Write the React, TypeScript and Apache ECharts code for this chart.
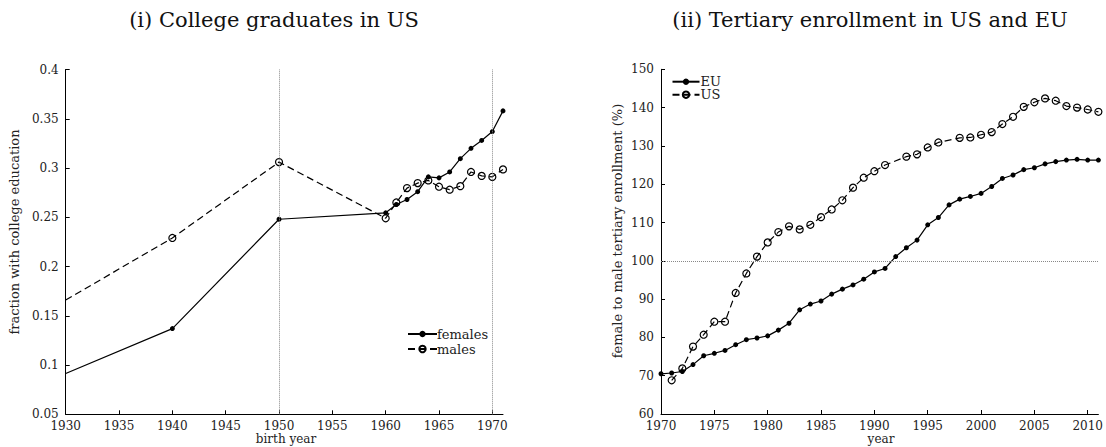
import React, { useEffect, useRef } from "react";
import * as echarts from "echarts";

// ---- Panel (i): College graduates in US ----
const gradYears = [1930, 1940, 1950, 1960, 1961, 1962, 1963, 1964, 1965, 1966, 1967, 1968, 1969, 1970, 1971];
const femalesGrad = [0.0914, 0.137, 0.248, 0.2545, 0.263, 0.268, 0.276, 0.291, 0.29, 0.296, 0.3095, 0.32, 0.328, 0.337, 0.358];
const malesGrad = [0.166, 0.229, 0.306, 0.249, 0.265, 0.2796, 0.2847, 0.2874, 0.281, 0.278, 0.2816, 0.296, 0.292, 0.291, 0.2986];
const gradXTicks = [1930, 1935, 1940, 1945, 1950, 1955, 1960, 1965, 1970];
const gradRefYears = [1950, 1970];

// ---- Panel (ii): Tertiary enrollment in US and EU ----
const euYears = [1970, 1971, 1972, 1973, 1974, 1975, 1976, 1977, 1978, 1979, 1980, 1981, 1982, 1983, 1984, 1985, 1986, 1987, 1988, 1989, 1990, 1991, 1992, 1993, 1994, 1995, 1996, 1997, 1998, 1999, 2000, 2001, 2002, 2003, 2004, 2005, 2006, 2007, 2008, 2009, 2010, 2011];
const euValues = [70.5, 70.7, 71.1, 72.9, 75.2, 75.85, 76.6, 78.1, 79.4, 79.85, 80.4, 81.9, 83.7, 87.2, 88.7, 89.5, 91.3, 92.6, 93.7, 95.2, 97.1, 98.0, 101.1, 103.4, 105.4, 109.4, 111.3, 114.6, 116.1, 116.8, 117.6, 119.4, 121.5, 122.4, 123.8, 124.3, 125.3, 125.9, 126.3, 126.5, 126.3, 126.3];
const usYears = [1971, 1972, 1973, 1974, 1975, 1976, 1977, 1978, 1979, 1980, 1981, 1982, 1983, 1984, 1985, 1986, 1987, 1988, 1989, 1990, 1991, 1993, 1994, 1995, 1996, 1998, 1999, 2000, 2001, 2002, 2003, 2004, 2005, 2006, 2007, 2008, 2009, 2010, 2011];
const usValues = [68.8, 71.9, 77.6, 80.7, 84.1, 84.1, 91.6, 96.7, 101.1, 104.8, 107.5, 109.0, 108.2, 109.4, 111.4, 113.4, 115.8, 119.1, 121.7, 123.4, 125.0, 127.2, 127.8, 129.6, 130.9, 132.1, 132.2, 132.9, 133.6, 135.7, 137.6, 140.2, 141.4, 142.4, 141.8, 140.4, 140.0, 139.5, 138.9];
const enrollXTicks = [1970, 1975, 1980, 1985, 1990, 1995, 2000, 2005, 2010];
const enrollRefValue = 100;

const FONT = '"DejaVu Serif", "Liberation Serif", serif';
const TEXT = "#222";

export default function App() {
  const ref = useRef<HTMLDivElement>(null);

  useEffect(() => {
    if (!ref.current) return;
    const chart = echarts.init(ref.current, null, { renderer: "svg" });

    const xLabel = { color: TEXT, fontFamily: FONT, fontSize: 12, lineHeight: 11 };
    const yLabel = { color: TEXT, fontFamily: FONT, fontSize: 12, lineHeight: 10 };
    const axisLine = { show: true, lineStyle: { color: "#000", width: 1 } };
    const axisTick = { show: true, inside: true, length: 4, lineStyle: { color: "#000" } };

    const femalesData = gradYears.map((y, i) =>
      i === 0 ? { value: [y, femalesGrad[i]], symbol: "none" } : { value: [y, femalesGrad[i]] }
    );
    const malesData = gradYears.map((y, i) =>
      i === 0 ? { value: [y, malesGrad[i]], symbol: "none" } : { value: [y, malesGrad[i]] }
    );

    const solidSeries = (name: string, data: any, xi: number, yi: number, extra: any = {}) => ({
      name,
      type: "line",
      xAxisIndex: xi,
      yAxisIndex: yi,
      data,
      symbol: "circle",
      symbolSize: 5,
      showAllSymbol: true,
      itemStyle: { color: "#000" },
      lineStyle: { color: "#000", width: 1.2, type: "solid" },
      z: 3,
      ...extra,
    });
    const dashedSeries = (name: string, data: any, xi: number, yi: number, extra: any = {}) => ({
      name,
      type: "line",
      xAxisIndex: xi,
      yAxisIndex: yi,
      data,
      symbol: "circle",
      symbolSize: 7,
      showAllSymbol: true,
      itemStyle: { color: "rgba(0,0,0,0)", borderColor: "#000", borderWidth: 1.2 },
      lineStyle: { color: "#000", width: 1.2, type: [7, 4] },
      z: 2,
      ...extra,
    });

    const xFmt = (v: number) => String(v);

    chart.setOption({
      animation: false,
      backgroundColor: "#fff",
      grid: [
        { left: 65.7, top: 69.5, width: 437.3, height: 344.8 },
        { left: 661, top: 69.3, width: 438.7, height: 344.7 },
      ],
      xAxis: [
        {
          type: "value",
          gridIndex: 0,
          min: 1930,
          max: 1971,
          interval: 5,
          splitLine: { show: false },
          axisLine,
          axisTick: { ...axisTick, customValues: gradXTicks },
          axisLabel: { ...xLabel, margin: 6, formatter: xFmt, customValues: gradXTicks },
        },
        {
          type: "value",
          gridIndex: 1,
          min: 1970,
          max: 2011,
          interval: 5,
          splitLine: { show: false },
          axisLine,
          axisTick: { ...axisTick, customValues: enrollXTicks },
          axisLabel: { ...xLabel, margin: 6, formatter: xFmt, customValues: enrollXTicks },
        },
      ],
      yAxis: [
        {
          type: "value",
          gridIndex: 0,
          min: 0.05,
          max: 0.4,
          interval: 0.05,
          splitLine: { show: false },
          axisLine,
          axisTick,
          axisLabel: { ...yLabel, margin: 7, formatter: (v: number) => String(Math.round(v * 100) / 100) },
        },
        {
          type: "value",
          gridIndex: 1,
          min: 60,
          max: 150,
          interval: 10,
          splitLine: { show: false },
          axisLine,
          axisTick,
          axisLabel: { ...yLabel, margin: 7 },
        },
      ],
      legend: [
        {
          data: ["females", "males"],
          orient: "vertical",
          left: 407,
          top: 326.5,
          padding: 0,
          itemGap: 0,
          itemWidth: 29,
          itemHeight: 8,
          textStyle: { color: TEXT, fontFamily: FONT, fontSize: 13, lineHeight: 15, padding: [0, 0, 0, -5] },
        },
        {
          data: ["EU", "US"],
          orient: "vertical",
          left: 671.5,
          top: 75.2,
          padding: 0,
          itemGap: 0,
          itemWidth: 27,
          itemHeight: 8,
          textStyle: { color: TEXT, fontFamily: FONT, fontSize: 13, lineHeight: 11, padding: [0, 0, 0, -4] },
        },
      ],
      graphic: [
        {
          type: "text",
          x: 274,
          y: 20,
          style: { text: "(i) College graduates in US", font: `21px ${FONT}`, fill: "#111", textAlign: "center", textVerticalAlign: "middle" },
        },
        {
          type: "text",
          x: 870,
          y: 20,
          style: { text: "(ii) Tertiary enrollment in US and EU", font: `21px ${FONT}`, fill: "#111", textAlign: "center", textVerticalAlign: "middle" },
        },
        {
          type: "text",
          x: 14.5,
          y: 232,
          rotation: Math.PI / 2,
          style: { text: "fraction with college education", font: `13px ${FONT}`, fill: TEXT, textAlign: "center", textVerticalAlign: "middle" },
        },
        {
          type: "text",
          x: 286,
          y: 439,
          style: { text: "birth year", font: `12px ${FONT}`, fill: TEXT, textAlign: "center", textVerticalAlign: "middle" },
        },
        {
          type: "text",
          x: 617.5,
          y: 231,
          rotation: Math.PI / 2,
          style: { text: "female to male tertiary enrollment (%)", font: `13px ${FONT}`, fill: TEXT, textAlign: "center", textVerticalAlign: "middle" },
        },
        {
          type: "text",
          x: 881,
          y: 439,
          style: { text: "year", font: `12px ${FONT}`, fill: TEXT, textAlign: "center", textVerticalAlign: "middle" },
        },
      ],
      series: [
        solidSeries("females", femalesData, 0, 0, {
          markLine: {
            silent: true,
            symbol: "none",
            label: { show: false },
            lineStyle: { color: "#888", width: 1, type: "dotted" },
            data: gradRefYears.map((x) => ({ xAxis: x })),
          },
        }),
        dashedSeries("males", malesData, 0, 0),
        solidSeries("EU", euYears.map((y, i) => [y, euValues[i]]), 1, 1, {
          markLine: {
            silent: true,
            symbol: "none",
            label: { show: false },
            lineStyle: { color: "#888", width: 1, type: "dotted" },
            data: [{ yAxis: enrollRefValue }],
          },
        }),
        dashedSeries("US", usYears.map((y, i) => [y, usValues[i]]), 1, 1),
      ],
    });

    return () => chart.dispose();
  }, []);

  return (
    <div
      ref={ref}
      style={{ position: "fixed", left: 0, top: 0, width: 1106, height: 447, background: "#fff" }}
    />
  );
}
